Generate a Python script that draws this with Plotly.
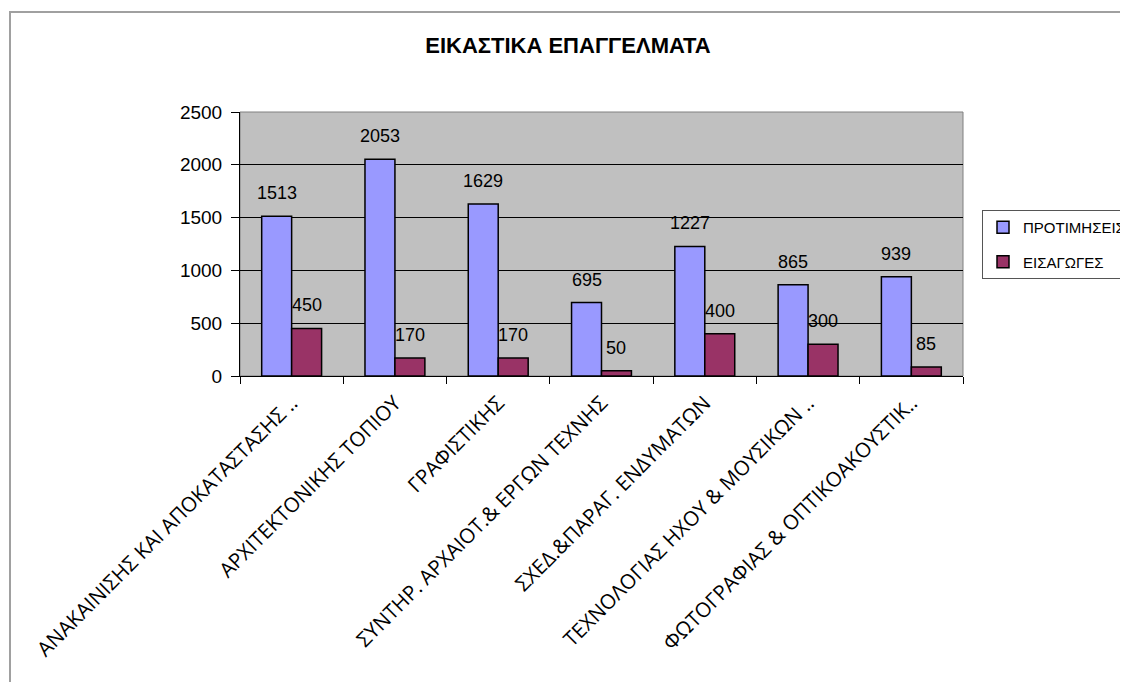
import plotly.graph_objects as go

categories = [
    "ΑΝΑΚΑΙΝΙΣΗΣ ΚΑΙ ΑΠΟΚΑΤΑΣΤΑΣΗΣ ..",
    "ΑΡΧΙΤΕΚΤΟΝΙΚΗΣ ΤΟΠΙΟΥ",
    "ΓΡΑΦΙΣΤΙΚΗΣ",
    "ΣΥΝΤΗΡ. ΑΡΧΑΙΟΤ.& ΕΡΓΩΝ ΤΕΧΝΗΣ",
    "ΣΧΕΔ.&ΠΑΡΑΓ. ΕΝΔΥΜΑΤΩΝ",
    "ΤΕΧΝΟΛΟΓΙΑΣ ΗΧΟΥ & ΜΟΥΣΙΚΩΝ ..",
    "ΦΩΤΟΓΡΑΦΙΑΣ & ΟΠΤΙΚΟΑΚΟΥΣΤΙΚ..",
]
protimiseis = [1513, 2053, 1629, 695, 1227, 865, 939]
eisagoges = [450, 170, 170, 50, 400, 300, 85]
series_names = ["ΠΡΟΤΙΜΗΣΕΙΣ", "ΕΙΣΑΓΩΓΕΣ"]
y_ticks = [0, 500, 1000, 1500, 2000, 2500]

W, H = 1128, 682
OFF = 8  # page body margin
L, R, T, B = 240 - OFF, 963 - OFF, 112 - OFF, 376 - OFF
BARGAP = 0.42

def px_x(p):
    return (p - OFF - L) / (R - L)

def px_y(p):
    return (B - (p - OFF)) / (B - T)

series = [(series_names[0], protimiseis, "#9999FF"),
          (series_names[1], eisagoges, "#993366")]

fig = go.Figure()
for i, (name, vals, col) in enumerate(series):
    fig.add_trace(go.Bar(
        x=categories, y=vals, name=name, legendgroup=f"g{i}",
        marker=dict(color=col, line=dict(color="black", width=1.5)),
    ))

# value labels above the bars, placed through the axes
cat_px = (R - L) / len(categories)
bar_px = cat_px * (1 - BARGAP) / len(series)
for i, (name, vals, col) in enumerate(series):
    dx = (i - (len(series) - 1) / 2) * bar_px
    for c, v in zip(categories, vals):
        fig.add_annotation(x=c, y=v, text=str(v), showarrow=False,
                           xshift=dx, yshift=23, yanchor="middle",
                           font=dict(family="Liberation Sans, Arial", size=18, color="black"))

fig.update_layout(
    width=W, height=H,
    margin=dict(l=L, r=W - R, t=T, b=H - B, autoexpand=False),
    paper_bgcolor="white", plot_bgcolor="#C0C0C0",
    barmode="group", bargap=BARGAP, bargroupgap=0,
    title=dict(text="<b>ΕΙΚΑΣΤΙΚΑ ΕΠΑΓΓΕΛΜΑΤΑ</b>", x=(568 - OFF) / W, xref="container",
               xanchor="center", y=1 - (45 - OFF) / H, yref="container", yanchor="middle",
               font=dict(family="Liberation Sans, Arial", size=22, color="black")),
    font=dict(family="Liberation Sans, Arial", color="black"),
    legend=dict(x=px_x(982), y=px_y(210), xanchor="left", yanchor="top",
                bgcolor="white", bordercolor="#555555", borderwidth=1,
                font=dict(family="Liberation Sans, Arial", size=15, color="black"),
                itemwidth=30, tracegroupgap=12, traceorder="grouped"),
    showlegend=True,
)
fig.update_xaxes(
    tickangle=-45, tickson="boundaries", ticks="outside", ticklen=7, tickcolor="black",
    showline=True, linecolor="black", linewidth=1, ticklabelstandoff=6,
    tickfont=dict(family="Open Sans, Liberation Sans", size=20.5, color="black"),
    showgrid=False,
)
fig.update_yaxes(
    range=[0, 2500], tickvals=y_ticks, ticks="outside", ticklen=8, tickcolor="black",
    showline=True, linecolor="black", linewidth=1, ticklabelstandoff=5,
    gridcolor="black", gridwidth=1, zeroline=False,
    tickfont=dict(family="Liberation Sans, Arial", size=19, color="black"),
)
# plot area border
fig.add_shape(type="rect", xref="paper", yref="paper", x0=0, x1=1, y0=0, y1=1,
              line=dict(color="#808080", width=1), layer="below")
# chart outer border
fig.add_shape(type="rect", xref="paper", yref="paper",
              x0=px_x(10), x1=px_x(1150), y0=px_y(720), y1=px_y(12),
              line=dict(color="#A0A0A0", width=2))

fig.write_html("out.html")
